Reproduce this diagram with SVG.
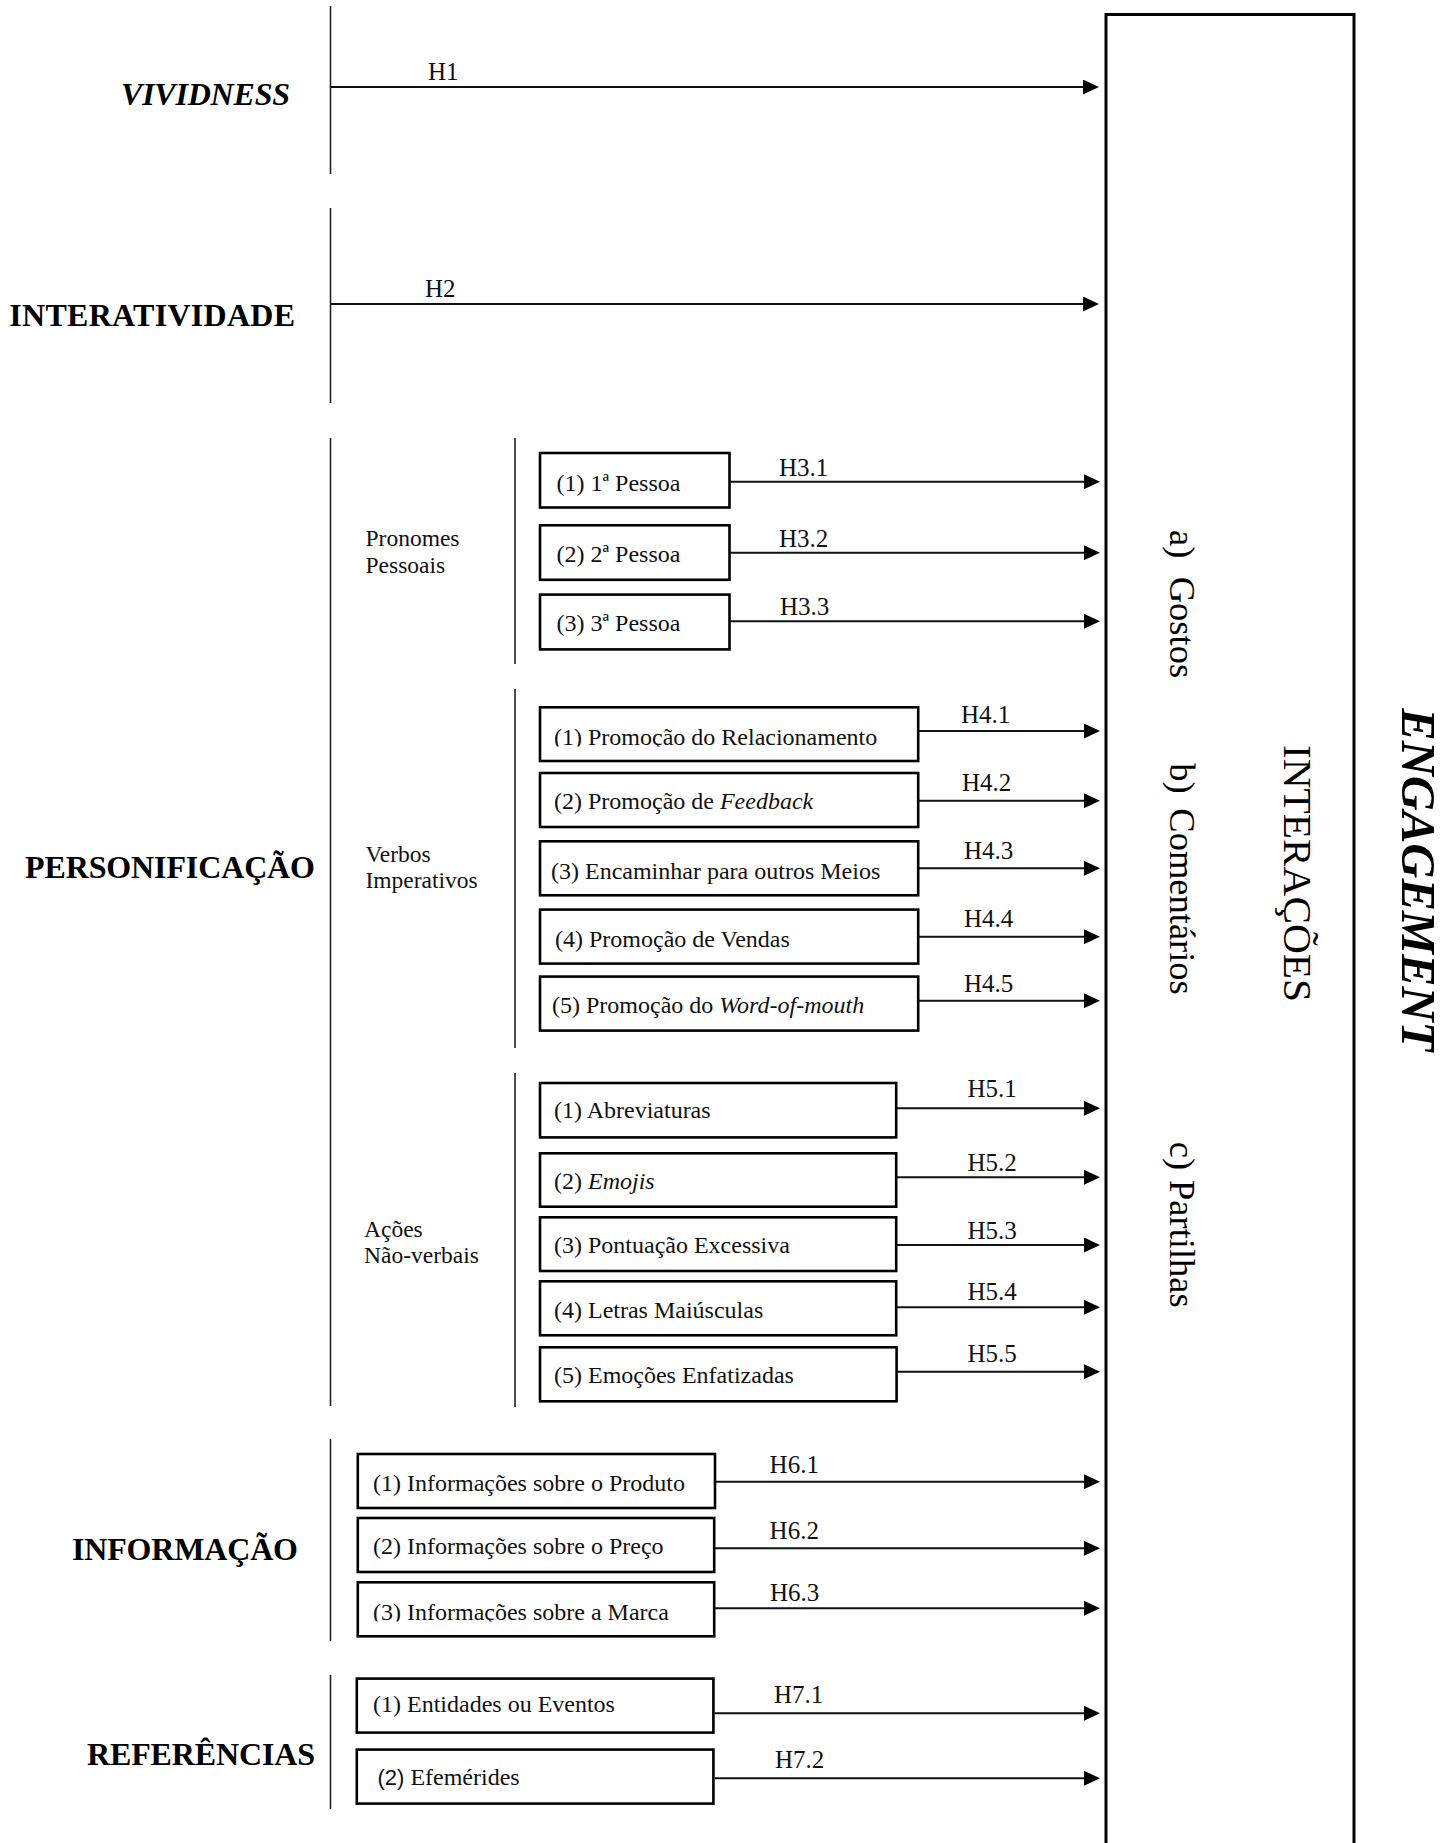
<svg xmlns="http://www.w3.org/2000/svg" width="1453" height="1843" viewBox="0 0 1453 1843">
<style>
.bg{fill:#fff}
.vl{stroke:#222;stroke-width:1.6;fill:none}
.ar{stroke:#111;stroke-width:2;fill:none}
.bx{fill:#fff;stroke:#000;stroke-width:2.6}
.big{font-family:"Liberation Serif","Times New Roman",serif;font-weight:bold;font-size:32px;fill:#000}
.sub{font-family:"Liberation Serif","Times New Roman",serif;font-size:23.5px;fill:#111}
.t{font-family:"Liberation Serif","Times New Roman",serif;font-size:24px;fill:#111}
.h{font-family:"Liberation Serif","Times New Roman",serif;font-size:25px;fill:#111}
.rot{font-family:"Liberation Serif","Times New Roman",serif;font-size:36.5px;fill:#000}
.i{font-style:italic}
.sans{font-family:"Liberation Sans",Arial,sans-serif}
</style>
<defs>
<marker id="ah" markerUnits="userSpaceOnUse" viewBox="0 0 16 15" refX="0" refY="7.5" markerWidth="16" markerHeight="15" orient="auto">
<path d="M0,0 L16,7.5 L0,15 z" fill="#000"/>
</marker>
<clipPath id="c41"><rect x="539" y="706" width="380" height="40.5"/></clipPath>
<clipPath id="c63"><rect x="356" y="1581" width="360" height="40.5"/></clipPath>
</defs>
<rect class="bg" x="0" y="0" width="1453" height="1843"/>

<g id="engagement">
<path d="M1106,1850 V14.5 H1354 V1850" fill="none" stroke="#000" stroke-width="3"/>
<text class="rot" transform="translate(1169.5,530) rotate(90)"><tspan x="0" y="0">a)</tspan><tspan x="46.7" y="0">Gostos</tspan></text>
<text class="rot" transform="translate(1169.5,763.3) rotate(90)"><tspan x="0" y="0">b)</tspan><tspan x="45" y="0">Comentários</tspan></text>
<text class="rot" transform="translate(1169.5,1141.7) rotate(90)"><tspan x="0" y="0">c)</tspan><tspan x="38.3" y="0">Partilhas</tspan></text>
<text class="rot" style="font-size:40px" transform="translate(1283.5,745) rotate(90)" textLength="257" lengthAdjust="spacingAndGlyphs">INTERAÇÕES</text>
<text class="big i" style="font-size:48px" transform="translate(1401.7,708.3) rotate(90)" textLength="343" lengthAdjust="spacingAndGlyphs">ENGAGEMENT</text>
</g>

<g id="vividness">
<text class="big i" x="121" y="105" textLength="169">VIVIDNESS</text>
<line class="vl" x1="330.5" y1="6" x2="330.5" y2="174"/>
</g>
<g id="interatividade">
<text class="big" x="9.3" y="326" textLength="285.7">INTERATIVIDADE</text>
<line class="vl" x1="330.5" y1="208" x2="330.5" y2="403"/>
</g>
<g id="personificacao">
<text class="big" x="25" y="878" textLength="290">PERSONIFICAÇÃO</text>
<line class="vl" x1="330.5" y1="438" x2="330.5" y2="1406"/>
</g>
<g id="pronomes">
<text class="sub" x="365.5" y="546">Pronomes</text>
<text class="sub" x="365.5" y="573">Pessoais</text>
<line class="vl" x1="515" y1="438" x2="515" y2="664"/>
</g>
<g id="verbos">
<text class="sub" x="365.5" y="861.7">Verbos</text>
<text class="sub" x="365.5" y="888.3">Imperativos</text>
<line class="vl" x1="515" y1="689" x2="515" y2="1048"/>
</g>
<g id="acoes">
<text class="sub" x="364" y="1236.7">Ações</text>
<text class="sub" x="364" y="1263.3">Não-verbais</text>
<line class="vl" x1="515" y1="1073" x2="515" y2="1407"/>
</g>
<g id="informacao">
<text class="big" x="72" y="1560" textLength="226">INFORMAÇÃO</text>
<line class="vl" x1="330.5" y1="1439" x2="330.5" y2="1641"/>
</g>
<g id="referencias">
<text class="big" x="87" y="1765" textLength="228">REFERÊNCIAS</text>
<line class="vl" x1="330.5" y1="1675" x2="330.5" y2="1809"/>
</g>

<g id="b31"><rect class="bx" x="540" y="453" width="189.5" height="54.5"/><text class="t" x="556.5" y="491">(1) 1ª Pessoa</text></g>
<g id="b32"><rect class="bx" x="540" y="525.3" width="189.5" height="54.5"/><text class="t" x="556.5" y="561.7">(2) 2ª Pessoa</text></g>
<g id="b33"><rect class="bx" x="540" y="594.6" width="189.5" height="54.8"/><text class="t" x="556.5" y="630.7">(3) 3ª Pessoa</text></g>

<g id="b41"><rect class="bx" x="540" y="707.3" width="378.2" height="53.7"/><text class="t" x="554" y="745" clip-path="url(#c41)">(1) Promoção do Relacionamento</text></g>
<g id="b42"><rect class="bx" x="540" y="773" width="378.2" height="54"/><text class="t" x="554" y="809">(2) Promoção de <tspan class="i">Feedback</tspan></text></g>
<g id="b43"><rect class="bx" x="540" y="841.3" width="378.2" height="54"/><text class="t" x="551" y="879.3">(3) Encaminhar para outros Meios</text></g>
<g id="b44"><rect class="bx" x="540" y="909.6" width="378.2" height="54"/><text class="t" x="555" y="946.7">(4) Promoção de Vendas</text></g>
<g id="b45"><rect class="bx" x="540" y="976.6" width="378.2" height="54"/><text class="t" x="552" y="1012.7">(5) Promoção do <tspan class="i">Word-of-mouth</tspan></text></g>

<g id="b51"><rect class="bx" x="540" y="1083" width="356.2" height="54.4"/><text class="t" x="554" y="1118.3">(1) Abreviaturas</text></g>
<g id="b52"><rect class="bx" x="540" y="1153.3" width="356.2" height="53.4"/><text class="t" x="554" y="1189.3">(2) <tspan class="i">Emojis</tspan></text></g>
<g id="b53"><rect class="bx" x="540" y="1217.3" width="356.2" height="53.7"/><text class="t" x="554" y="1252.7">(3) Pontuação Excessiva</text></g>
<g id="b54"><rect class="bx" x="540" y="1281.3" width="356.2" height="54"/><text class="t" x="554" y="1318.3">(4) Letras Maiúsculas</text></g>
<g id="b55"><rect class="bx" x="540" y="1347.3" width="356.6" height="54"/><text class="t" x="554" y="1383.3">(5) Emoções Enfatizadas</text></g>

<g id="b61"><rect class="bx" x="357.8" y="1454" width="357.2" height="54"/><text class="t" x="373" y="1491">(1) Informações sobre o Produto</text></g>
<g id="b62"><rect class="bx" x="357.8" y="1518" width="356.4" height="54"/><text class="t" x="373" y="1554.3">(2) Informações sobre o Preço</text></g>
<g id="b63"><rect class="bx" x="357.8" y="1582.3" width="356.4" height="54"/><text class="t" x="373" y="1620" clip-path="url(#c63)">(3) Informações sobre a Marca</text></g>

<g id="b71"><rect class="bx" x="356.8" y="1678.6" width="356.6" height="54"/><text class="t" x="373" y="1711.7">(1) Entidades ou Eventos</text></g>
<g id="b72"><rect class="bx" x="356.8" y="1749.6" width="356.6" height="54"/><text class="t" x="377.5" y="1785"><tspan class="sans" style="font-size:22px">(2)</tspan> Efemérides</text></g>

<g id="connectors">
<line class="ar" x1="331" y1="87" x2="1083" y2="87" marker-end="url(#ah)"/>
<line class="ar" x1="331" y1="304" x2="1083" y2="304" marker-end="url(#ah)"/>
<line class="ar" x1="730" y1="481.7" x2="1084" y2="481.7" marker-end="url(#ah)"/>
<line class="ar" x1="730" y1="552.7" x2="1084" y2="552.7" marker-end="url(#ah)"/>
<line class="ar" x1="730" y1="621.3" x2="1084" y2="621.3" marker-end="url(#ah)"/>
<line class="ar" x1="919" y1="731" x2="1084" y2="731" marker-end="url(#ah)"/>
<line class="ar" x1="919" y1="800.7" x2="1084" y2="800.7" marker-end="url(#ah)"/>
<line class="ar" x1="919" y1="868.3" x2="1084" y2="868.3" marker-end="url(#ah)"/>
<line class="ar" x1="919" y1="936.7" x2="1084" y2="936.7" marker-end="url(#ah)"/>
<line class="ar" x1="919" y1="1000.7" x2="1084" y2="1000.7" marker-end="url(#ah)"/>
<line class="ar" x1="897" y1="1108.3" x2="1084" y2="1108.3" marker-end="url(#ah)"/>
<line class="ar" x1="897" y1="1177.3" x2="1084" y2="1177.3" marker-end="url(#ah)"/>
<line class="ar" x1="897" y1="1245" x2="1084" y2="1245" marker-end="url(#ah)"/>
<line class="ar" x1="897" y1="1307.3" x2="1084" y2="1307.3" marker-end="url(#ah)"/>
<line class="ar" x1="897" y1="1371.7" x2="1084" y2="1371.7" marker-end="url(#ah)"/>
<line class="ar" x1="716" y1="1481.7" x2="1084" y2="1481.7" marker-end="url(#ah)"/>
<line class="ar" x1="715" y1="1548.3" x2="1084" y2="1548.3" marker-end="url(#ah)"/>
<line class="ar" x1="715" y1="1608.3" x2="1084" y2="1608.3" marker-end="url(#ah)"/>
<line class="ar" x1="714.5" y1="1713.3" x2="1084" y2="1713.3" marker-end="url(#ah)"/>
<line class="ar" x1="714.5" y1="1778.3" x2="1084" y2="1778.3" marker-end="url(#ah)"/>
<text class="h" x="428" y="80">H1</text>
<text class="h" x="425" y="296.7">H2</text>
<text class="h" x="779" y="476">H3.1</text>
<text class="h" x="779" y="546.7">H3.2</text>
<text class="h" x="780" y="615">H3.3</text>
<text class="h" x="961" y="722.7">H4.1</text>
<text class="h" x="962" y="791">H4.2</text>
<text class="h" x="964" y="859">H4.3</text>
<text class="h" x="964" y="927.3">H4.4</text>
<text class="h" x="964" y="992.3">H4.5</text>
<text class="h" x="967.5" y="1096.7">H5.1</text>
<text class="h" x="967.5" y="1170.7">H5.2</text>
<text class="h" x="967.5" y="1239.3">H5.3</text>
<text class="h" x="967.5" y="1300">H5.4</text>
<text class="h" x="967.5" y="1361.7">H5.5</text>
<text class="h" x="769.6" y="1473.3">H6.1</text>
<text class="h" x="769.6" y="1539.3">H6.2</text>
<text class="h" x="770" y="1601">H6.3</text>
<text class="h" x="774" y="1703.3">H7.1</text>
<text class="h" x="775" y="1768.3">H7.2</text>
</g>
</svg>
